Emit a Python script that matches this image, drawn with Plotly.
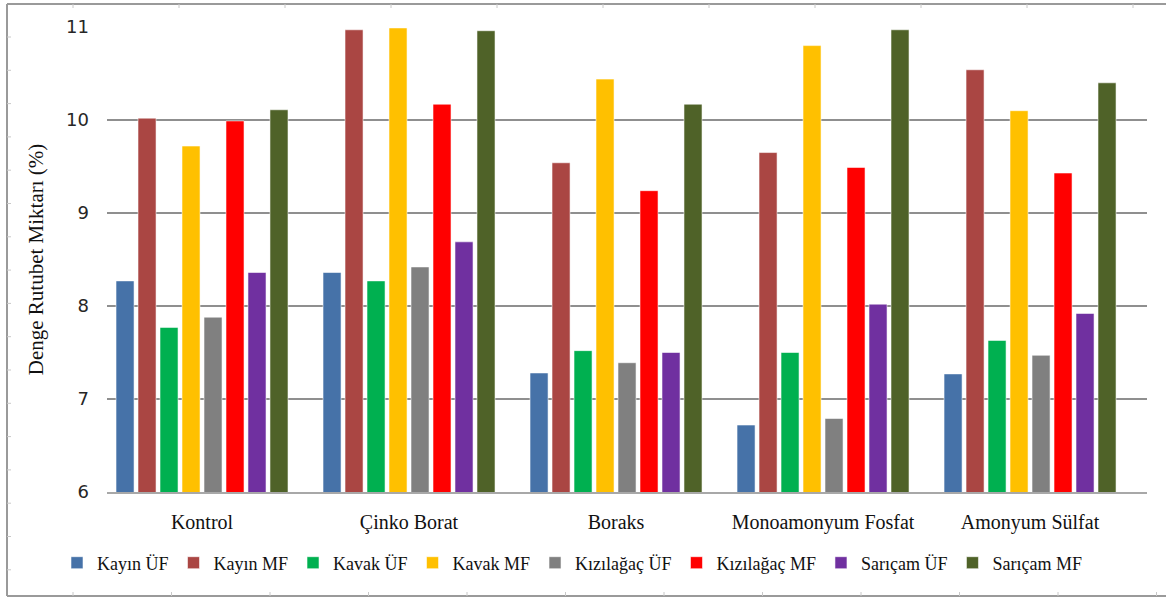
import plotly.graph_objects as go

# Treatment groups (x axis) and wood/adhesive series
categories = ["Kontrol", "Çinko Borat", "Boraks", "Monoamonyum Fosfat", "Amonyum Sülfat"]

kayin_uf = [8.27, 8.36, 7.28, 6.72, 7.27]
kayin_mf = [10.02, 10.97, 9.54, 9.65, 10.54]
kavak_uf = [7.77, 8.27, 7.52, 7.50, 7.63]
kavak_mf = [9.72, 10.99, 10.44, 10.80, 10.10]
kizilagac_uf = [7.88, 8.42, 7.39, 6.79, 7.47]
kizilagac_mf = [9.99, 10.17, 9.24, 9.49, 9.43]
saricam_uf = [8.36, 8.69, 7.50, 8.02, 7.92]
saricam_mf = [10.11, 10.96, 10.17, 10.97, 10.40]

series_names = ["Kayın ÜF", "Kayın MF", "Kavak ÜF", "Kavak MF",
                "Kızılağaç ÜF", "Kızılağaç MF", "Sarıçam ÜF", "Sarıçam MF"]
series_values = [kayin_uf, kayin_mf, kavak_uf, kavak_mf,
                 kizilagac_uf, kizilagac_mf, saricam_uf, saricam_mf]
series_colors = ["#4672A8", "#AA4643", "#00B050", "#FFC000",
                 "#808080", "#FF0000", "#7030A0", "#4F6228"]

y_ticks = [6, 7, 8, 9, 10, 11]

x_pos = list(range(len(categories)))

fig = go.Figure()
for name, vals, col in zip(series_names, series_values, series_colors):
    fig.add_trace(go.Bar(
        x=x_pos, y=vals, name=name,
        marker=dict(color=col, line=dict(color="rgba(255,255,255,0.55)", width=1)),
    ))

W, H = 1166, 599
ml, mr, mt, mb = 107, 19, 27, 107
pw, ph = W - ml - mr, H - mt - mb


def px_x(px):
    return (px - ml) / pw


def px_y(py):
    return (H - mb - py) / ph


frame_col = "#9a9a9a"
shapes = [
    # outer chart frame (top, left, bottom edges)
    dict(type="line", xref="paper", yref="paper", x0=px_x(7), x1=px_x(1170), y0=px_y(4), y1=px_y(4),
         line=dict(color=frame_col, width=2)),
    dict(type="line", xref="paper", yref="paper", x0=px_x(7), x1=px_x(7), y0=px_y(4), y1=px_y(596),
         line=dict(color=frame_col, width=2)),
    dict(type="line", xref="paper", yref="paper", x0=px_x(7), x1=px_x(1170), y0=px_y(596), y1=px_y(596),
         line=dict(color=frame_col, width=2)),
]
# small ruler ticks along the frame
tick_col = "#c8c8c8"
t = 73
while t < 1166:
    shapes.append(dict(type="line", xref="paper", yref="paper", x0=px_x(t), x1=px_x(t),
                       y0=px_y(4), y1=px_y(8), line=dict(color=tick_col, width=1)))
    t += 106
t = 73
while t < 1166:
    shapes.append(dict(type="line", xref="paper", yref="paper", x0=px_x(t), x1=px_x(t),
                       y0=px_y(592), y1=px_y(596), line=dict(color=tick_col, width=1)))
    t += 98.5
t = 37
while t < 596:
    shapes.append(dict(type="line", xref="paper", yref="paper", x0=px_x(7), x1=px_x(11),
                       y0=px_y(t), y1=px_y(t), line=dict(color=tick_col, width=1)))
    t += 33.3

fig.update_layout(
    width=W, height=H, autosize=False,
    margin=dict(l=ml, r=mr, t=mt, b=mb, pad=0),
    paper_bgcolor="white", plot_bgcolor="white",
    barmode="group", bargap=0.15, bargroupgap=0.18,
    shapes=shapes,
    xaxis=dict(
        range=[-0.459, 4.565],
        tickmode="array", tickvals=x_pos, ticktext=categories,
        showgrid=False, zeroline=False,
        showline=True, linecolor="#a8a8a8", linewidth=2,
        ticks="", ticklabelstandoff=11,
        tickfont=dict(family="Liberation Serif", size=20, color="#111111"),
    ),
    yaxis=dict(
        range=[6, 11],
        tickmode="array", tickvals=y_ticks,
        showgrid=True, gridcolor="#8f8f8f", gridwidth=1.5,
        zeroline=False, showline=False, ticks="",
        ticklabelstandoff=17,
        tickfont=dict(family="DejaVu Sans", size=18, color="#262626"),
        title=dict(text="Denge Rutubet Miktarı (%)", standoff=16,
                   font=dict(family="Liberation Serif", size=21, color="#111111")),
    ),
    legend=dict(
        orientation="h", x=px_x(572), xanchor="center", y=px_y(563), yanchor="middle",
        font=dict(family="Liberation Serif", size=18, color="#111111"),
        itemwidth=30, traceorder="normal", bgcolor="rgba(0,0,0,0)",
    ),
    showlegend=True,
)

fig.write_html("out.html")
